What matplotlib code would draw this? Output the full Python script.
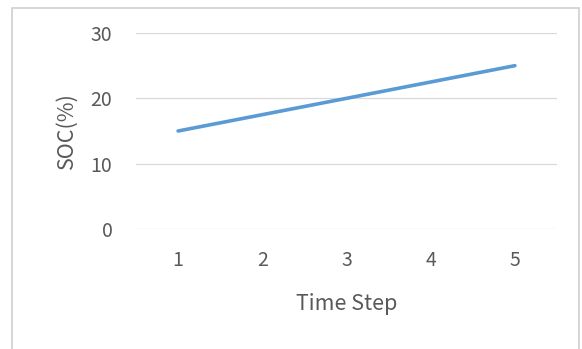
import matplotlib.pyplot as plt
from matplotlib.patches import Rectangle

plt.rcParams['font.family'] = ['Noto Sans CJK KR', 'DejaVu Sans']

steps = [1, 2, 3, 4, 5]
soc = [15, 17.5, 20, 22.5, 25]
y_ticks = [0, 10, 20, 30]

text_color = "#595959"
grid_color = "#D9D9D9"

fig = plt.figure(figsize=(5.82, 3.49), dpi=100)
# outer chart frame, open at the bottom like the cropped reference
fig.patches.append(Rectangle((12 / 582, -0.1), 567 / 582, 1.1 - 8 / 349,
                             transform=fig.transFigure, facecolor="white",
                             edgecolor="#D0D0D0", linewidth=1.2, zorder=-10))

ax = fig.add_axes([136 / 582, 1 - 229 / 349, 421 / 582, 196 / 349])
ax.set_facecolor("none")
ax.plot(steps, soc, color="#5B9BD5", linewidth=2.6, solid_capstyle="round", zorder=3)

ax.set_xlim(0.5, 5.5)
ax.set_ylim(0, 30)
ax.set_xticks(steps)
ax.set_yticks(y_ticks)
ax.grid(axis="y", color=grid_color, linewidth=0.9)
ax.set_axisbelow(True)
for s in ax.spines.values():
    s.set_visible(False)
ax.tick_params(length=0, labelsize=14, labelcolor=text_color)
ax.tick_params(axis="y", pad=17)
ax.tick_params(axis="x", pad=15)

ax.set_xlabel("Time Step", fontsize=15.5, color=text_color, labelpad=16)
ax.set_ylabel("SOC(%)", fontsize=15.5, color=text_color, labelpad=9)

fig.savefig("out.png", dpi=100)
